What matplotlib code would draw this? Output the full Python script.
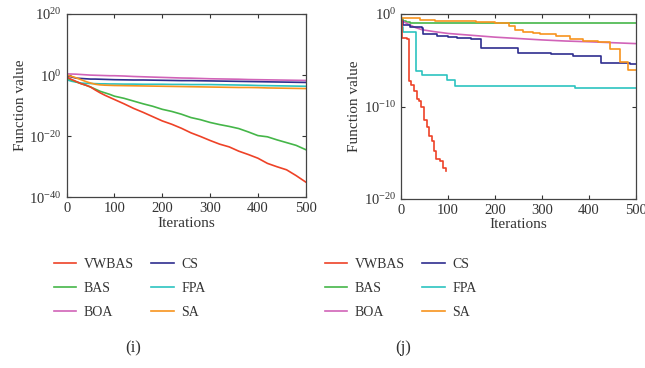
import matplotlib
matplotlib.use("Agg")
import matplotlib.pyplot as plt
import numpy as np

plt.rcParams['font.family'] = ['Liberation Serif', 'DejaVu Serif']
plt.rcParams['mathtext.fontset'] = 'custom'
plt.rcParams['mathtext.rm'] = 'Liberation Serif'
plt.rcParams['mathtext.it'] = 'Liberation Serif:italic'

names = ['VWBAS', 'BAS', 'BOA', 'CS', 'FPA', 'SA']
colors = ['#ee4227', '#45b649', '#d163b8', '#2f2e8f', '#2cc3c0', '#f7941e']

# ---- panel (i): iterations and log10 of function value ----
it_i = [0, 10, 20, 30, 40, 50, 60, 70, 80, 90, 100, 120, 140, 160, 180, 200,
        220, 240, 260, 280, 300, 320, 340, 360, 380, 400, 420, 440, 460, 480, 500]
vwbas_i = [-0.6, -1.4, -2.1, -2.8, -3.3, -3.9, -4.9, -5.8, -6.6, -7.3, -8.0, -9.4, -10.9, -12.2, -13.6, -15.0,
           -16.1, -17.4, -18.9, -20.1, -21.4, -22.6, -23.5, -24.9, -26.0, -27.2, -28.9, -30.0, -31.0, -32.9, -35.0]
bas_i = [-1.0, -1.6, -2.2, -2.8, -3.3, -3.9, -4.6, -5.3, -5.8, -6.3, -6.9, -7.6, -8.5, -9.4, -10.2, -11.2,
         -11.9, -12.8, -13.9, -14.6, -15.5, -16.2, -16.8, -17.5, -18.6, -19.8, -20.2, -21.2, -22.1, -23.0, -24.4]
boa_i = [0.4, 0.35, 0.3, 0.2, 0.1, 0.0, -0.05, -0.1, -0.15, -0.2, -0.2, -0.3, -0.45, -0.55, -0.65, -0.75,
         -0.85, -0.95, -1.0, -1.1, -1.2, -1.25, -1.3, -1.35, -1.45, -1.5, -1.55, -1.6, -1.65, -1.7, -1.75]
cs_i = [-0.2, -0.6, -1.0, -1.1, -1.2, -1.3, -1.3, -1.35, -1.4, -1.45, -1.5, -1.55, -1.6, -1.6, -1.65, -1.7,
        -1.75, -1.8, -1.8, -1.85, -1.9, -1.95, -2.0, -2.05, -2.1, -2.15, -2.2, -2.25, -2.3, -2.35, -2.4]
fpa_i = [-1.5, -2.0, -2.3, -2.6, -2.7, -2.75, -2.8, -2.85, -2.85, -2.9, -2.9, -2.95, -2.95, -3.0, -3.0, -3.0,
         -3.05, -3.05, -3.1, -3.1, -3.1, -3.15, -3.2, -3.25, -3.3, -3.4, -3.45, -3.5, -3.55, -3.6, -3.65]
sa_i = [0.0, -0.4, -0.9, -1.5, -2.1, -2.6, -3.0, -3.2, -3.3, -3.35, -3.4, -3.45, -3.5, -3.55, -3.6, -3.65,
        -3.7, -3.75, -3.8, -3.85, -3.9, -3.95, -4.0, -4.05, -4.05, -4.1, -4.2, -4.25, -4.3, -4.35, -4.4]

# ---- panel (j): step breakpoints (iteration, log10 value) ----
vwbas_j_x = [0, 3, 12, 16, 21, 28, 33, 39, 43, 50, 55, 60, 66, 71, 75, 82, 89, 95]
vwbas_j_y = [-0.7, -2.6, -2.7, -7.2, -7.7, -8.3, -9.2, -9.4, -10.1, -11.5, -12.2, -13.2, -13.7, -14.8, -15.7, -15.9, -16.6, -17.0]
bas_j_x = [0, 5, 10, 20, 30, 500]
bas_j_y = [-0.5, -0.75, -0.9, -0.97, -1.0, -1.0]
boa_j_x = [0, 10, 20, 30, 45, 70, 100, 150, 200, 250, 300, 350, 400, 450, 500]
boa_j_y = [-0.7, -0.95, -1.2, -1.45, -1.7, -1.9, -2.1, -2.3, -2.5, -2.65, -2.8, -2.92, -3.0, -3.1, -3.2]
cs_j_x = [0, 5, 20, 45, 46, 76, 100, 120, 150, 170, 250, 320, 366, 425, 488, 500]
cs_j_y = [-0.8, -1.2, -1.35, -1.55, -2.2, -2.34, -2.45, -2.6, -2.74, -3.64, -4.25, -4.36, -4.54, -5.26, -5.44, -5.44]
fpa_j_x = [0, 5, 30, 32, 44, 97, 115, 370, 500]
fpa_j_y = [-1.4, -1.9, -1.9, -6.2, -6.6, -7.1, -7.8, -8.0, -8.0]
sa_j_x = [0, 40, 72, 120, 160, 200, 230, 243, 260, 281, 296, 330, 360, 388, 420, 444, 466, 484, 500]
sa_j_y = [-0.47, -0.6, -0.75, -0.8, -0.85, -0.94, -1.3, -1.73, -1.9, -2.1, -2.16, -2.4, -2.65, -2.88, -3.05, -3.82, -5.2, -6.1, -6.1]

fig = plt.figure(figsize=(6.45, 3.68), dpi=100)
axI = fig.add_axes([0.1034, 0.4639, 0.3705, 0.498])
axJ = fig.add_axes([0.6217, 0.4592, 0.3643, 0.5027])

dataI = [vwbas_i, bas_i, boa_i, cs_i, fpa_i, sa_i]
for k in [2, 3, 4, 5, 1, 0]:
    axI.plot(it_i, 10.0 ** np.array(dataI[k]), color=colors[k], lw=1.2, label=names[k])

dataJ = [(vwbas_j_x, vwbas_j_y), (bas_j_x, bas_j_y), (boa_j_x, boa_j_y),
         (cs_j_x, cs_j_y), (fpa_j_x, fpa_j_y), (sa_j_x, sa_j_y)]
for k in [1, 2, 3, 4, 5, 0]:
    xs, ys = dataJ[k]
    style = 'default' if k == 2 else 'steps-post'
    axJ.plot(xs, 10.0 ** np.array(ys), color=colors[k], lw=1.2, drawstyle=style, label=names[k])

for ax in [axI, axJ]:
    ax.set_yscale('log')
    ax.set_xlim(0, 500)
    ax.set_xticks([0, 100, 200, 300, 400, 500])
    ax.minorticks_off()
    ax.tick_params(direction='in', top=True, right=True, labelsize=10.5,
                   colors='#333333', length=3, width=0.8)
    for s in ax.spines.values():
        s.set_color('#444444')
        s.set_linewidth(0.9)
    ax.set_xlabel('Iterations', fontsize=11, color='#333333', labelpad=1)
    ax.set_ylabel('Function value', fontsize=11, color='#333333', labelpad=2)

axI.set_ylim(1e-40, 1e20)
axI.set_yticks([1e-40, 1e-20, 1e0, 1e20])
axJ.set_ylim(1e-20, 1e0)
axJ.set_yticks([1e-20, 1e-10, 1e0])
axI.minorticks_off()
axJ.minorticks_off()

for ax, x0 in [(axI, 0.0837), (axJ, 0.5039)]:
    h, l = ax.get_legend_handles_labels()
    order = [l.index(n) for n in names]
    fig.legend([h[i] for i in order], [l[i] for i in order], ncol=2, loc='upper left',
               bbox_to_anchor=(x0, 0.299), frameon=False, fontsize=10, borderpad=0,
               borderaxespad=0, handlelength=1.6, handletextpad=0.55, columnspacing=1.25,
               labelspacing=0.78, labelcolor='#333333')

fig.text(133 / 645, 1 - 348 / 368, '(i)', ha='center', va='center', fontsize=12, color='#333333')
fig.text(403 / 645, 1 - 348 / 368, '(j)', ha='center', va='center', fontsize=12, color='#333333')

fig.savefig('out.png', dpi=100)
